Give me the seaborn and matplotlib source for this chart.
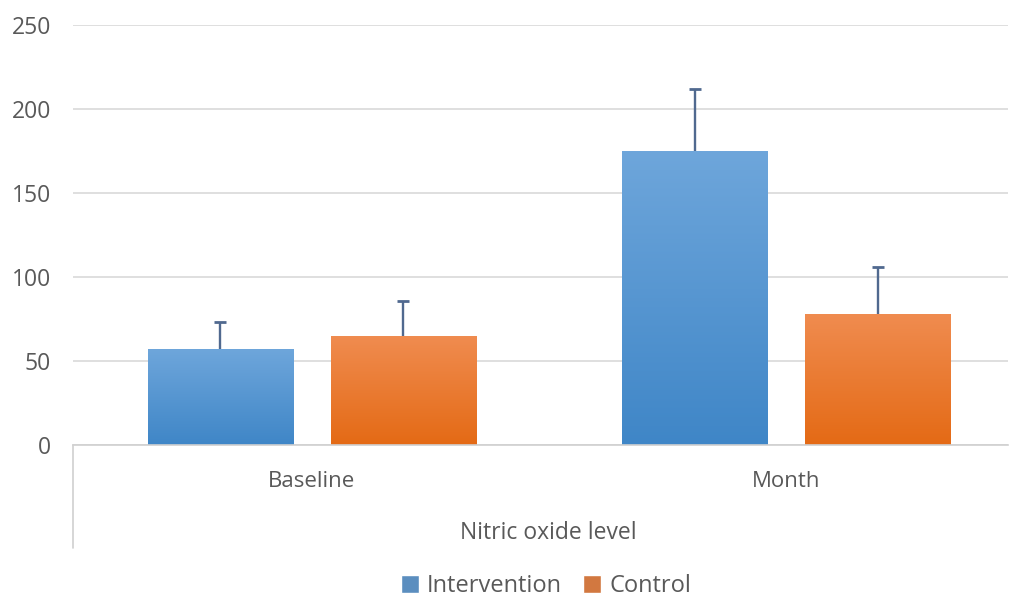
import numpy as np
import pandas as pd
import seaborn as sns
import matplotlib
matplotlib.use("Agg")
import matplotlib.pyplot as plt
from matplotlib.colors import LinearSegmentedColormap
from matplotlib import font_manager

# ---- data ----
categories = ["Baseline", "Month"]
groups = ["Intervention", "Control"]
intervention_mean = [57, 175]
control_mean = [65, 78]
intervention_err = [16.5, 37]
control_err = [21, 28]
y_ticks = [0, 50, 100, 150, 200, 250]
outer_label = "Nitric oxide level"

df = pd.DataFrame({
    "category": categories * 2,
    "group": [groups[0]] * 2 + [groups[1]] * 2,
    "value": intervention_mean + control_mean,
    "err": intervention_err + control_err,
})

sns.set_style("white")
avail = {f.name for f in font_manager.fontManager.ttflist}
fam = [f for f in ["Liberation Sans Narrow", "Open Sans", "DejaVu Sans"] if f in avail]
plt.rcParams["font.family"] = fam
text_col = "#595959"

fig = plt.figure(figsize=(10.11, 5.97), dpi=100)
ax = fig.add_axes([73 / 1011, 152 / 597, 935 / 1011, 420 / 597])

palette = {"Intervention": "#4A8ED0", "Control": "#EB7227"}
sns.barplot(data=df, x="category", y="value", hue="group", order=categories,
            hue_order=groups, palette=palette, width=0.772, gap=0.207,
            errorbar=None, ax=ax, zorder=2)

grads = {
    "Intervention": ("#3F86C7", "#6EA6DB"),
    "Control": ("#E46A15", "#F08C50"),
}

# bars from seaborn: patches ordered by hue then category
bar_patches = [p for p in ax.patches if p.get_height() > 0][:4]
grad = np.linspace(0, 1, 256).reshape(-1, 1)
for i, p in enumerate(bar_patches):
    g = groups[i // 2]
    cmap = LinearSegmentedColormap.from_list(g, grads[g])
    x0, y0, w, h = p.get_x(), p.get_y(), p.get_width(), p.get_height()
    im = ax.imshow(grad, extent=[x0, x0 + w, y0, y0 + h], origin="lower",
                   aspect="auto", cmap=cmap, zorder=2)
    im.set_clip_path(p)
    p.set_facecolor("none")
    p.set_edgecolor("none")
    row = df[(df.group == g) & (df.category == categories[i % 2])].iloc[0]
    eb = ax.errorbar(x0 + w / 2, row.value, yerr=[[0], [row.err]], fmt="none",
                     ecolor="#50698F", elinewidth=1.7, capsize=4.5,
                     capthick=2.0, zorder=3)
    caps = eb.lines[1]
    if len(caps) > 1:
        caps[0].set_visible(False)

ax.set_xlim(-0.504, 1.468)
ax.set_ylim(0, 250)
ax.set_yticks(y_ticks)
ax.yaxis.grid(True, color="#D9D9D9", linewidth=1.2, zorder=0)
ax.set_axisbelow(True)
for s in ["top", "right", "left"]:
    ax.spines[s].set_visible(False)
ax.spines["bottom"].set_color("#D0D0D0")
ax.spines["bottom"].set_linewidth(1.2)
ax.tick_params(axis="y", length=0, pad=16, labelsize=16.5, labelcolor=text_col)
ax.tick_params(axis="x", length=0, pad=19, labelsize=16, labelcolor=text_col)
ax.set_ylabel("")
ax.set_xlabel(outer_label, fontsize=16.5, color=text_col)
ax.xaxis.set_label_coords(0.508, -0.21)
ax.xaxis.label.set_va("center")

# left border of the category axis
ax.plot([0, 0], [0, -0.245], transform=ax.transAxes, color="#D0D0D0",
        linewidth=1.2, clip_on=False)

sns.move_legend(ax, "center", bbox_to_anchor=(0.506, -0.336), ncol=2,
                frameon=False, title=None, fontsize=17, handlelength=0.75,
                handleheight=0.75, handletextpad=0.35, columnspacing=0.9,
                borderpad=0.1)
for t in ax.get_legend().get_texts():
    t.set_color(text_col)

fig.savefig("out.png", dpi=100)
